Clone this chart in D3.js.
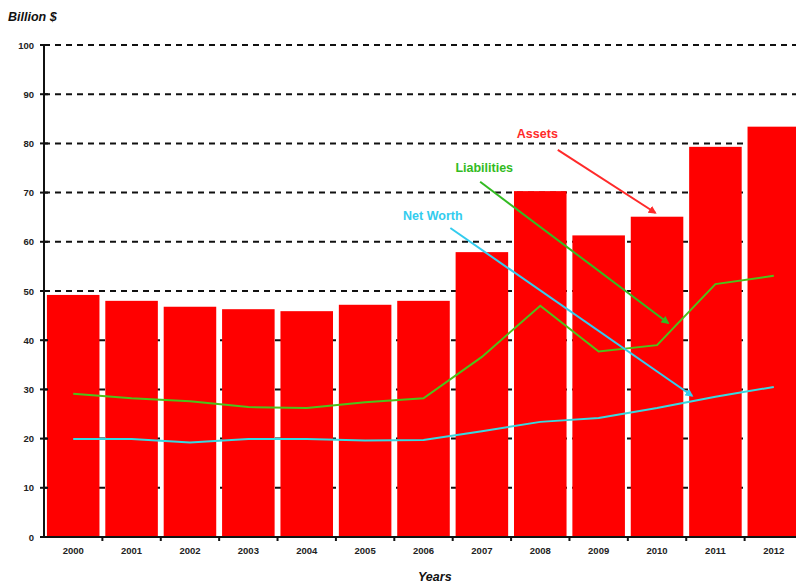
<!DOCTYPE html>
<html>
<head>
<meta charset="utf-8">
<script src="https://cdn.jsdelivr.net/npm/d3@7"></script>
<style>
  body { margin: 0; background: #fff; }
  svg { display: block; font-family: "Liberation Sans", Arial, sans-serif; }
  .tick-label { font-size: 9.5px; font-weight: bold; fill: #222; }
  .axis-title { font-size: 12.5px; font-weight: bold; font-style: italic; fill: #111; }
  .note { font-size: 12.5px; font-weight: bold; }
</style>
</head>
<body>
<svg id="chart" width="796" height="586"></svg>
<script>
// data
const years = ['2000','2001','2002','2003','2004','2005','2006','2007','2008','2009','2010','2011','2012'];
const assets = [49.2, 48.0, 46.8, 46.3, 45.9, 47.2, 48.0, 57.9, 70.3, 61.3, 65.1, 79.3, 83.4];
const liabilities = [29.1, 28.2, 27.6, 26.4, 26.2, 27.4, 28.2, 36.6, 47.0, 37.7, 39.0, 51.4, 53.1];
const netWorth = [19.9, 19.9, 19.2, 19.9, 19.9, 19.6, 19.7, 21.5, 23.4, 24.2, 26.2, 28.5, 30.5];
const yTicks = [0, 10, 20, 30, 40, 50, 60, 70, 80, 90, 100];

// annotations: position as (category index, value)
const notes = [
  {text: 'Assets', color: '#ff2a2a', at: [7.95, 81.1], from: [8.30, 78.7], to: [9.97, 65.9]},
  {text: 'Liabilities', color: '#33bb22', at: [7.04, 74.2], from: [6.97, 72.2], to: [10.19, 43.5]},
  {text: 'Net Worth', color: '#33ccee', at: [6.16, 64.4], from: [6.46, 62.8], to: [10.6, 28.7]}
];

const svg = d3.select('#chart');
const mLeft = 44, mTop = 45, mBottom = 537, mRight = 803, W = 796;

const x = d3.scaleBand().domain(years).range([mLeft, mRight]).paddingInner(0.1).paddingOuter(0.05);
const y = d3.scaleLinear().domain([0, 100]).range([mBottom, mTop]);
const cx = i => x(years[0]) + x.bandwidth() / 2 + i * x.step();

// dashed grid lines (behind bars)
svg.append('g').selectAll('line').data(yTicks.filter(d => d > 0)).join('line')
  .attr('x1', mLeft).attr('x2', W)
  .attr('y1', d => y(d)).attr('y2', d => y(d))
  .attr('stroke', '#111').attr('stroke-width', 2).attr('stroke-dasharray', '6,5');

// bars
svg.append('g').selectAll('rect').data(assets).join('rect')
  .attr('x', (d, i) => x(years[i]))
  .attr('y', d => y(d))
  .attr('width', x.bandwidth())
  .attr('height', d => y(0) - y(d))
  .attr('fill', '#ff0000');

// lines
const line = d3.line().x((d, i) => cx(i)).y(d => y(d));
svg.append('path').datum(liabilities).attr('d', line)
  .attr('fill', 'none').attr('stroke', '#4cc21a').attr('stroke-width', 2);
svg.append('path').datum(netWorth).attr('d', line)
  .attr('fill', 'none').attr('stroke', '#38d8e0').attr('stroke-width', 2);

// y axis
const yAxis = svg.append('g').attr('transform', `translate(${mLeft},0)`)
  .call(d3.axisLeft(y).tickValues(yTicks).tickSize(0).tickPadding(10));
yAxis.select('.domain').remove();
yAxis.selectAll('text').attr('class', 'tick-label');
svg.append('g').selectAll('line').data(yTicks).join('line')
  .attr('x1', mLeft - 4).attr('x2', mLeft + 4)
  .attr('y1', d => y(d)).attr('y2', d => y(d))
  .attr('stroke', '#111').attr('stroke-width', 2);
svg.append('line').attr('x1', mLeft).attr('x2', mLeft).attr('y1', mTop).attr('y2', mBottom)
  .attr('stroke', '#111').attr('stroke-width', 2);

// x axis
const xAxis = svg.append('g').attr('transform', `translate(0,${mBottom})`)
  .call(d3.axisBottom(x).tickSize(0).tickPadding(10));
xAxis.select('.domain').remove();
xAxis.selectAll('text').attr('class', 'tick-label');
svg.append('line').attr('x1', mLeft).attr('x2', W).attr('y1', mBottom).attr('y2', mBottom)
  .attr('stroke', '#111').attr('stroke-width', 2);
svg.append('g').selectAll('line').data(years.slice(1)).join('line')
  .attr('x1', d => x(d) - x.step() * x.paddingInner() / 2)
  .attr('x2', d => x(d) - x.step() * x.paddingInner() / 2)
  .attr('y1', mBottom).attr('y2', mBottom + 4)
  .attr('stroke', '#111').attr('stroke-width', 2);

// titles
svg.append('text').attr('class', 'axis-title').attr('x', 8).attr('y', 21).text('Billion $');
svg.append('text').attr('class', 'axis-title').attr('x', 418).attr('y', 581).text('Years');

// annotations with arrows
const defs = svg.append('defs');
notes.forEach((n, k) => {
  defs.append('marker').attr('id', 'arrow' + k)
    .attr('viewBox', '0 0 10 10').attr('refX', 8).attr('refY', 5)
    .attr('markerWidth', 4).attr('markerHeight', 4).attr('orient', 'auto')
    .append('path').attr('d', 'M0,0L10,5L0,10z').attr('fill', n.color);
  svg.append('line')
    .attr('x1', cx(n.from[0])).attr('y1', y(n.from[1]))
    .attr('x2', cx(n.to[0])).attr('y2', y(n.to[1]))
    .attr('stroke', n.color).attr('stroke-width', 2)
    .attr('marker-end', `url(#arrow${k})`);
  svg.append('text').attr('class', 'note')
    .attr('x', cx(n.at[0])).attr('y', y(n.at[1]))
    .attr('text-anchor', 'middle').attr('fill', n.color).text(n.text);
});
</script>
</body>
</html>
